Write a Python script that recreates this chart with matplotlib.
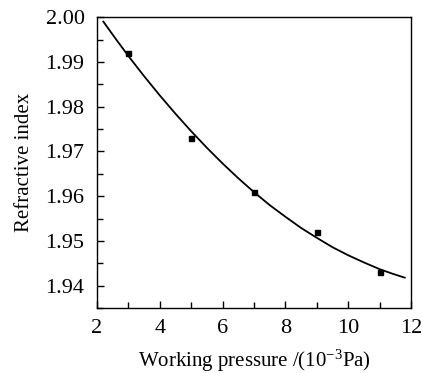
import numpy as np
import matplotlib
matplotlib.use("agg")
import matplotlib.pyplot as plt
from matplotlib.ticker import MultipleLocator, FormatStrFormatter

plt.rcParams.update({'font.family': "serif",
                     'font.serif': ["Liberation Serif"],
                     'font.size': 16,
                     'mathtext.fontset': "custom",
                     'mathtext.rm': "Liberation Serif",
                     'mathtext.default': "regular",
                     })

# Measured points
pressure = [3, 5, 7, 9, 11]
refr_index = [1.992, 1.973, 1.961, 1.952, 1.943]

# Fitted curve
fit_x = [2.2, 2.6, 3, 3.5, 4, 4.5, 5, 5.5, 6, 6.5, 7, 7.5, 8, 8.5, 9, 9.5, 10, 10.5, 11, 11.4, 11.8]
fit_y = [1.9990, 1.9951, 1.9913, 1.9868, 1.9825, 1.9784, 1.9745, 1.9708, 1.9673, 1.9640,
         1.9609, 1.9580, 1.9554, 1.9529, 1.9507, 1.9486, 1.9468, 1.9452, 1.9437, 1.9427, 1.9418]

fig = plt.figure(figsize=(4.22, 3.73), dpi=100)
ax = fig.add_axes([0.230, 0.174, 0.744, 0.780])

ax.plot(fit_x, fit_y, color="black", linewidth=1.3)
ax.plot(pressure, refr_index, "ks", markersize=3.6)

ax.set_xlim(2, 12)
ax.set_ylim(1.935, 2.00)
ax.xaxis.set_major_locator(MultipleLocator(2))
ax.xaxis.set_minor_locator(MultipleLocator(1))
ax.yaxis.set_major_locator(MultipleLocator(0.01))
ax.yaxis.set_minor_locator(MultipleLocator(0.005))
ax.yaxis.set_major_formatter(FormatStrFormatter("%.2f"))
ax.tick_params(which="both", direction="in", top=False, right=False, width=1)
ax.tick_params(which="major", length=5)
ax.tick_params(which="minor", length=4)
ax.tick_params(axis="x", which="major", pad=8)
ax.tick_params(axis="y", which="major", pad=9)
for sp in ax.spines.values():
    sp.set_linewidth(1)

ax.set_xlabel("Working pressure /(10$^{-3}$Pa)", fontsize=15, labelpad=7)
ax.set_ylabel("Refractive index", fontsize=15, labelpad=8)

fig.savefig("out.png", dpi=100)
